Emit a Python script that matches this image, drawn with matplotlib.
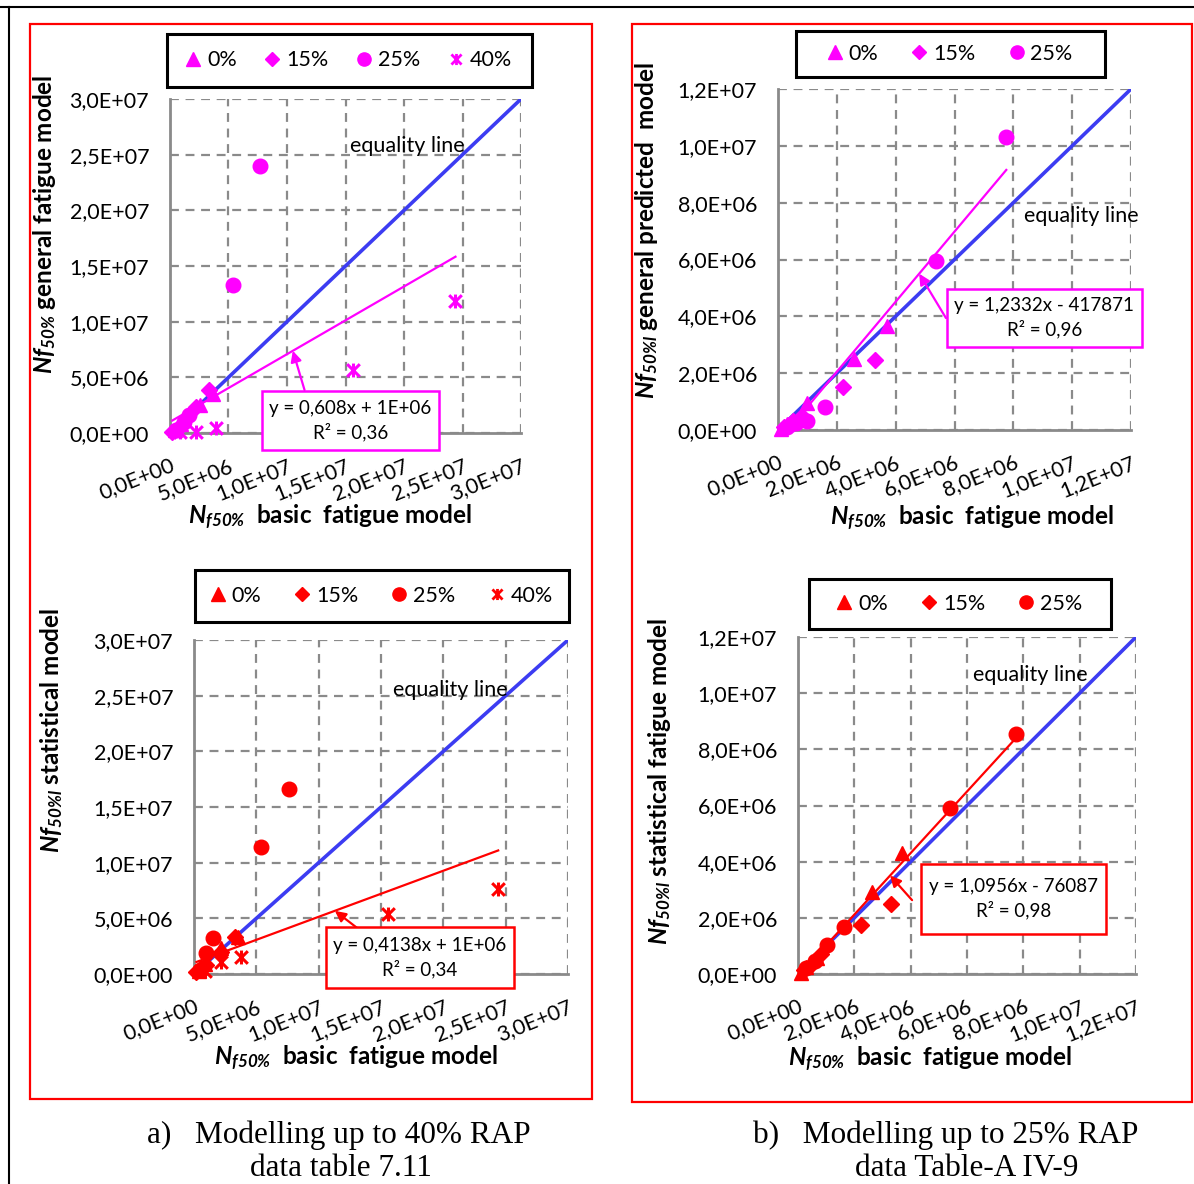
"""Recreate the RAP fatigue model comparison figure (4 scatter panels)."""

import matplotlib
matplotlib.use("Agg")
import matplotlib.pyplot as plt
import numpy as np
from matplotlib.lines import Line2D
from matplotlib.patches import Rectangle
from matplotlib.path import Path
from matplotlib.ticker import FuncFormatter


W, H = 1194, 1184

plt.rcParams["font.family"] = ["Lato", "DejaVu Sans"]
plt.rcParams["mathtext.fontset"] = "custom"
plt.rcParams["mathtext.rm"] = "Lato"
plt.rcParams["mathtext.it"] = "Lato:italic"
plt.rcParams["mathtext.bf"] = "Lato:bold"
plt.rcParams["mathtext.bfit"] = "Lato:bold:italic"

MAGENTA = "#FF00FF"
RED = "#FF0000"
BLUE = "#3C3CF2"
GRID = "#8A8A8A"

# ---- data: panel a, top (general fatigue model vs basic model) ----
a1_x_0 = [0.4e6, 0.9e6, 2.6e6, 3.7e6]
a1_y_0 = [0.3e6, 0.8e6, 2.5e6, 3.5e6]
a1_x_15 = [0.2e6, 0.6e6, 1.0e6, 2.2e6, 3.3e6]
a1_y_15 = [0.1e6, 0.4e6, 0.7e6, 2.3e6, 3.9e6]
a1_x_25 = [0.5e6, 1.2e6, 1.6e6, 5.4e6, 7.7e6]
a1_y_25 = [0.3e6, 1.0e6, 1.6e6, 1.33e7, 2.40e7]
a1_x_40 = [0.85e6, 2.2e6, 3.9e6, 1.56e7, 2.44e7]
a1_y_40 = [0.05e6, 0.1e6, 0.45e6, 5.7e6, 1.19e7]
a1_fit = (0.608, 1e6)

# ---- data: panel a, bottom (statistical model vs basic model) ----
a2_x_0 = [0.4e6, 0.9e6, 2.2e6, 3.5e6]
a2_y_0 = [0.3e6, 0.9e6, 2.3e6, 3.3e6]
a2_x_15 = [0.2e6, 0.6e6, 1.0e6, 2.2e6, 3.3e6]
a2_y_15 = [0.2e6, 0.5e6, 0.8e6, 2.0e6, 3.3e6]
a2_x_25 = [0.5e6, 1.0e6, 1.5e6, 5.4e6, 7.6e6]
a2_y_25 = [0.4e6, 1.9e6, 3.2e6, 1.14e7, 1.66e7]
a2_x_40 = [0.85e6, 2.2e6, 3.8e6, 1.56e7, 2.44e7]
a2_y_40 = [0.3e6, 1.1e6, 1.5e6, 5.4e6, 7.6e6]
a2_fit = (0.4138, 1e6)

# ---- data: panel b, top (general predicted model vs basic model) ----
b1_x_0 = [0.1e6, 0.3e6, 1.0e6, 2.6e6, 3.7e6]
b1_y_0 = [0.05e6, 0.2e6, 0.95e6, 2.5e6, 3.66e6]
b1_x_15 = [0.2e6, 0.5e6, 0.8e6, 2.2e6, 3.3e6]
b1_y_15 = [0.1e6, 0.3e6, 0.5e6, 1.52e6, 2.46e6]
b1_x_25 = [0.3e6, 0.6e6, 1.0e6, 1.6e6, 5.37e6, 7.76e6]
b1_y_25 = [0.1e6, 0.25e6, 0.32e6, 0.81e6, 5.95e6, 1.03e7]
b1_fit = (1.2332, -417871)

# ---- data: panel b, bottom (statistical fatigue model vs basic model) ----
b2_x_0 = [0.1e6, 0.3e6, 0.67e6, 2.63e6, 3.7e6]
b2_y_0 = [0.05e6, 0.25e6, 0.57e6, 2.92e6, 4.3e6]
b2_x_15 = [0.2e6, 0.5e6, 0.8e6, 2.24e6, 3.3e6]
b2_y_15 = [0.15e6, 0.35e6, 0.7e6, 1.74e6, 2.5e6]
b2_x_25 = [0.3e6, 0.6e6, 1.03e6, 1.63e6, 5.4e6, 7.74e6]
b2_y_25 = [0.2e6, 0.45e6, 1.03e6, 1.67e6, 5.9e6, 8.54e6]
b2_fit = (1.0956, -76087)

LABELS_40 = ["0%", "15%", "25%", "40%"]
LABELS_25 = ["0%", "15%", "25%"]

STAR = Path(
    [(-1, -1), (1, 1), (-1, 1), (1, -1), (0, -1.1), (0, 1.1)],
    [Path.MOVETO, Path.LINETO, Path.MOVETO, Path.LINETO, Path.MOVETO, Path.LINETO],
)
MARKERS = [("^", 10), ("D", 8), ("o", 10.5), (STAR, 10)]

TICK_FS = 15.5
LAB_FS = 17.5


def fx(px):
    return px / W


def fy(py):
    return 1 - py / H


def sci(v, _pos=None):
    return f"{v:.1E}".replace(".", ",")


def make_axes(fig, box, lim, step):
    x0, x1, yt, yb = box
    ax = fig.add_axes([fx(x0), fy(yb), (x1 - x0) / W, (yb - yt) / H])
    ax.set_xlim(0, lim)
    ax.set_ylim(0, lim)
    ticks = np.arange(0, lim + step / 2, step)
    ax.set_xticks(ticks)
    ax.set_yticks(ticks)
    ax.xaxis.set_major_formatter(FuncFormatter(sci))
    ax.yaxis.set_major_formatter(FuncFormatter(sci))
    ax.grid(True, color=GRID, ls=(0, (4, 3)), lw=1.6)
    ax.set_axisbelow(True)
    for side in ("top", "right"):
        ax.spines[side].set_visible(False)
    for side in ("left", "bottom"):
        ax.spines[side].set_color(GRID)
        ax.spines[side].set_linewidth(2)
    ax.tick_params(length=0, labelsize=TICK_FS)
    ax.tick_params(axis="y", pad=15)
    ax.tick_params(axis="x", pad=16, labelrotation=22)
    for lab in ax.get_xticklabels():
        lab.set_ha("right")
        lab.set_va("top")
        lab.set_rotation_mode("anchor")
    ax.plot([0, lim], [0, lim], color=BLUE, lw=2.6, zorder=3)
    return ax


def draw_series(ax, series, color):
    for (xs, ys), (m, ms) in zip(series, MARKERS):
        if isinstance(m, Path):
            ax.plot(xs, ys, ls="none", marker=m, ms=ms, mfc="none", mec=color,
                    mew=2.2, clip_on=False, zorder=4)
        else:
            ax.plot(xs, ys, ls="none", marker=m, ms=ms, color=color,
                    clip_on=False, zorder=4)


def draw_trend(ax, series, fit, color):
    xs = np.concatenate([np.asarray(s[0]) for s in series])
    xr = np.array([xs.min(), xs.max()])
    ax.plot(xr, fit[0] * xr + fit[1], color=color, lw=1.6, zorder=3)


def add_legend(fig, labels, color, box, colspace):
    x0, x1, yt, yb = box
    fig.patches.append(Rectangle((fx(x0), fy(yb)), (x1 - x0) / W, (yb - yt) / H,
                                 transform=fig.transFigure, fill=False,
                                 edgecolor="black", lw=2.2))
    handles = []
    for (m, ms), _ in zip(MARKERS, labels):
        if isinstance(m, Path):
            handles.append(Line2D([], [], ls="none", marker=m, ms=8, mfc="none",
                                  mec=color, mew=2))
        else:
            handles.append(Line2D([], [], ls="none", marker=m,
                                  ms=9.5 if m != "D" else 7.5, color=color))
    fig.legend(handles, labels, loc="center", ncol=len(labels), frameon=False,
               bbox_to_anchor=(fx((x0 + x1) / 2), fy((yt + yb) / 2)),
               fontsize=TICK_FS, handlelength=0.6, handletextpad=0.35,
               columnspacing=colspace)


def add_eq_box(fig, box, lines, color):
    x0, x1, yt, yb = box
    fig.patches.append(Rectangle((fx(x0), fy(yb)), (x1 - x0) / W, (yb - yt) / H,
                                 transform=fig.transFigure, facecolor="white",
                                 edgecolor=color, lw=1.8, zorder=5))
    fig.text(fx((x0 + x1) / 2), fy((yt + yb) / 2), "\n".join(lines),
             ha="center", va="center", fontsize=13.5, linespacing=1.35, zorder=6)


def add_arrow(ax, head_x, tail, fit, color):
    head = (head_x, fit[0] * head_x + fit[1])
    ax.annotate("", xy=head, xytext=tail,
                arrowprops=dict(arrowstyle="-|>", color=color, lw=1.6,
                                mutation_scale=16, shrinkA=0, shrinkB=0),
                zorder=5, annotation_clip=False)


fig = plt.figure(figsize=(W / 100, H / 100), dpi=100)

# page borders
fig.add_artist(Line2D([0, 1], [fy(7), fy(7)], color="black", lw=1.5))
fig.add_artist(Line2D([fx(9), fx(9)], [fy(7), 0], color="black", lw=1.5))
for x0, x1, yt, yb in [(30, 592, 24, 1099), (632, 1192, 24, 1102)]:
    fig.patches.append(Rectangle((fx(x0), fy(yb)), (x1 - x0) / W, (yb - yt) / H,
                                 transform=fig.transFigure, fill=False,
                                 edgecolor=RED, lw=1.6))

lbl_a1 = r"$\mathbfit{Nf}_{\mathbfit{50\%}}$ general fatigue model"
lbl_a2 = r"$\mathbfit{Nf}_{\mathbfit{50\%l}}$ statistical model"
lbl_b1 = r"$\mathbfit{Nf}_{\mathbfit{50\%l}}$ general predicted  model"
lbl_b2 = r"$\mathbfit{Nf}_{\mathbfit{50\%l}}$ statistical fatigue model"
lbl_x = r"$\mathbfit{N}_{\mathbfit{f50\%}}$  basic  fatigue model"
EQ_FS = 15.5

# ---- panel a, top ----
ax = make_axes(fig, (170, 521, 99, 433), 3e7, 5e6)
s = [(a1_x_0, a1_y_0), (a1_x_15, a1_y_15), (a1_x_25, a1_y_25), (a1_x_40, a1_y_40)]
draw_trend(ax, s, a1_fit, MAGENTA)
draw_series(ax, s, MAGENTA)
add_arrow(ax, 1.05e7, (1.15e7, 3.86e6), a1_fit, MAGENTA)
add_legend(fig, LABELS_40, MAGENTA, (167, 532, 34, 87), 1.35)
add_eq_box(fig, (262, 439, 391, 450), ["y = 0,608x + 1E+06", "R² = 0,36"], MAGENTA)
fig.text(fx(350), fy(146), "equality line", fontsize=EQ_FS, va="center")
fig.text(fx(45), fy(224), lbl_a1, rotation=90, ha="center", va="center",
         fontsize=LAB_FS, fontweight="bold")
fig.text(fx(330), fy(517), lbl_x, ha="center", va="center", fontsize=LAB_FS,
         fontweight="bold")

# ---- panel a, bottom ----
ax = make_axes(fig, (194, 568, 640, 974), 3e7, 5e6)
s = [(a2_x_0, a2_y_0), (a2_x_15, a2_y_15), (a2_x_25, a2_y_25), (a2_x_40, a2_y_40)]
draw_trend(ax, s, a2_fit, RED)
draw_series(ax, s, RED)
add_arrow(ax, 1.13e7, (1.33e7, 3.95e6), a2_fit, RED)
add_legend(fig, LABELS_40, RED, (195, 569, 570, 622), 1.6)
add_eq_box(fig, (326, 514, 927, 988), ["y = 0,4138x + 1E+06", "R² = 0,34"], RED)
fig.text(fx(393), fy(690), "equality line", fontsize=EQ_FS, va="center")
fig.text(fx(52), fy(730), lbl_a2, rotation=90, ha="center", va="center",
         fontsize=LAB_FS, fontweight="bold")
fig.text(fx(356), fy(1058), lbl_x, ha="center", va="center", fontsize=LAB_FS,
         fontweight="bold")

# ---- panel b, top ----
ax = make_axes(fig, (778, 1131, 89, 430), 1.2e7, 2e6)
s = [(b1_x_0, b1_y_0), (b1_x_15, b1_y_15), (b1_x_25, b1_y_25)]
draw_trend(ax, s, b1_fit, MAGENTA)
draw_series(ax, s, MAGENTA)
add_arrow(ax, 4.8e6, (5.71e6, 3.94e6), b1_fit, MAGENTA)
add_legend(fig, LABELS_25, MAGENTA, (796, 1105, 31, 77), 1.6)
add_eq_box(fig, (947, 1142, 289, 347), ["y = 1,2332x - 417871", "R² = 0,96"], MAGENTA)
fig.text(fx(1024), fy(216), "equality line", fontsize=EQ_FS, va="center")
fig.text(fx(647), fy(231), lbl_b1, rotation=90, ha="center", va="center",
         fontsize=LAB_FS, fontweight="bold")
fig.text(fx(972), fy(518), lbl_x, ha="center", va="center", fontsize=LAB_FS,
         fontweight="bold")

# ---- panel b, bottom ----
ax = make_axes(fig, (798, 1136, 637, 974), 1.2e7, 2e6)
s = [(b2_x_0, b2_y_0), (b2_x_15, b2_y_15), (b2_x_25, b2_y_25)]
draw_trend(ax, s, b2_fit, RED)
draw_series(ax, s, RED)
add_arrow(ax, 3.27e6, (4.05e6, 2.63e6), b2_fit, RED)
add_legend(fig, LABELS_25, RED, (809, 1111, 579, 629), 1.6)
add_eq_box(fig, (921, 1106, 864, 934), ["y = 1,0956x - 76087", "R² = 0,98"], RED)
fig.text(fx(973), fy(675), "equality line", fontsize=EQ_FS, va="center")
fig.text(fx(660), fy(782), lbl_b2, rotation=90, ha="center", va="center",
         fontsize=LAB_FS, fontweight="bold")
fig.text(fx(930), fy(1059), lbl_x, ha="center", va="center", fontsize=LAB_FS,
         fontweight="bold")

# captions
cap = dict(ha="center", va="center", fontsize=22.5, family="Liberation Serif")
fig.text(fx(339), fy(1135), "a)   Modelling up to 40% RAP", **cap)
fig.text(fx(341), fy(1168), "data table 7.11", **cap)
fig.text(fx(946), fy(1135), "b)   Modelling up to 25% RAP", **cap)
fig.text(fx(967), fy(1168), "data Table-A IV-9", **cap)

fig.savefig("out.png", dpi=100)
plt.close(fig)
